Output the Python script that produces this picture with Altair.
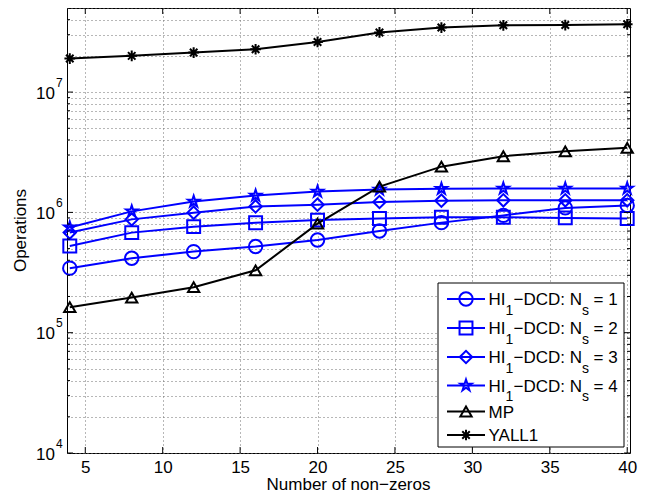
import altair as alt
import pandas as pd

# ---------------- data ----------------
x_vals = [4, 8, 12, 16, 20, 24, 28, 32, 36, 40]
ns1 = [3.44e5, 4.16e5, 4.72e5, 5.20e5, 5.89e5, 7.00e5, 8.22e5, 9.44e5, 1.09e6, 1.14e6]
ns2 = [5.26e5, 6.79e5, 7.61e5, 8.21e5, 8.63e5, 8.90e5, 9.10e5, 9.10e5, 9.00e5, 8.90e5]
ns3 = [6.80e5, 8.75e5, 9.95e5, 1.12e6, 1.16e6, 1.22e6, 1.25e6, 1.26e6, 1.26e6, 1.26e6]
ns4 = [7.50e5, 1.02e6, 1.23e6, 1.38e6, 1.49e6, 1.55e6, 1.57e6, 1.58e6, 1.58e6, 1.58e6]
mp = [1.63e5, 1.96e5, 2.39e5, 3.30e5, 8.06e5, 1.64e6, 2.40e6, 2.93e6, 3.22e6, 3.44e6]
yall1 = [1.90e7, 2.00e7, 2.13e7, 2.27e7, 2.61e7, 3.13e7, 3.44e7, 3.59e7, 3.61e7, 3.66e7]

series_keys = ["ns1", "ns2", "ns3", "ns4", "mp", "yall1"]
series_vals = [ns1, ns2, ns3, ns4, mp, yall1]
series_colors = ["#0000ff", "#0000ff", "#0000ff", "#0000ff", "#000000", "#000000"]
pentagram = ("M0,-1L0.2245,-0.309L0.9511,-0.309L0.3633,0.118L0.5878,0.809L0,0.382"
             "L-0.5878,0.809L-0.3633,0.118L-0.9511,-0.309L-0.2245,-0.309Z")
asterisk = "M0,-1L0,1M-1,0L1,0M-0.7,-0.7L0.7,0.7M-0.7,0.7L0.7,-0.7"
series_shapes = ["circle", "square", "diamond", pentagram, "triangle-up", asterisk]
series_sizes = [180, 115, 230, 260, 300, 160]

x_ticks = [5, 10, 15, 20, 25, 30, 35, 40]
decades = [1e4, 1e5, 1e6, 1e7]
exponents = ["4", "5", "6", "7"]
minor_vals = [m * d for d in decades for m in range(2, 10) if m * d <= 5e7]
grid_vals = sorted(decades + minor_vals)

legend_main = ["HI", "HI", "HI", "HI", "MP", "YALL1"]
legend_num = ["1", "2", "3", "4"]

W, H = 563, 445
FS = 17
FONT = "Liberation Sans"

rows = []
for k, vals in zip(series_keys, series_vals):
    for xv, yv in zip(x_vals, vals):
        rows.append({"x": xv, "y": yv, "series": k})
df = pd.DataFrame(rows)

xscale = alt.Scale(domain=[3.82, 40.18], nice=False, zero=False)
yscale = alt.Scale(type="log", domain=[1e4, 5e7], nice=False)
cscale = alt.Scale(domain=series_keys, range=series_colors)
shscale = alt.Scale(domain=series_keys, range=series_shapes)
szscale = alt.Scale(domain=series_keys, range=series_sizes)

x_axis = alt.Axis(values=x_ticks, grid=True, gridDash=[1, 3], gridColor="#6e6e6e",
                  gridWidth=1, ticks=False, tickSize=0, domain=False,
                  labelFont=FONT, labelFontSize=FS, labelColor="black",
                  labelBaseline="alphabetic", labelPadding=19, labelFlush=False,
                  title=None)
y_axis = alt.Axis(values=grid_vals, grid=True, gridDash=[1, 3], gridColor="#6e6e6e",
                  gridWidth=1, ticks=False, tickSize=0, domain=False, labels=False,
                  title=None)

base = alt.Chart(df)
lines = base.mark_line(strokeWidth=2).encode(
    x=alt.X("x:Q", scale=xscale, axis=x_axis),
    y=alt.Y("y:Q", scale=yscale, axis=y_axis),
    color=alt.Color("series:N", scale=cscale, legend=None),
    detail="series:N",
)
points = base.mark_point(filled=False, strokeWidth=2, opacity=1).encode(
    x=alt.X("x:Q", scale=xscale),
    y=alt.Y("y:Q", scale=yscale),
    color=alt.Color("series:N", scale=cscale, legend=None),
    shape=alt.Shape("series:N", scale=shscale, legend=None),
    size=alt.Size("series:N", scale=szscale, legend=None),
)

# inner ticks (MATLAB style)
xt = pd.DataFrame({"v": x_ticks})
xt_bottom = alt.Chart(xt).mark_rule(color="black", strokeWidth=1).encode(
    x=alt.X("v:Q", scale=xscale), y=alt.value(H), y2=alt.value(H - 6))
xt_top = alt.Chart(xt).mark_rule(color="black", strokeWidth=1).encode(
    x=alt.X("v:Q", scale=xscale), y=alt.value(0), y2=alt.value(6))
yt = pd.DataFrame({"v": decades})
ym = pd.DataFrame({"v": minor_vals})
yt_left = alt.Chart(yt).mark_rule(color="black", strokeWidth=1).encode(
    y=alt.Y("v:Q", scale=yscale), x=alt.value(0), x2=alt.value(6))
yt_right = alt.Chart(yt).mark_rule(color="black", strokeWidth=1).encode(
    y=alt.Y("v:Q", scale=yscale), x=alt.value(W), x2=alt.value(W - 6))
ym_left = alt.Chart(ym).mark_rule(color="black", strokeWidth=1).encode(
    y=alt.Y("v:Q", scale=yscale), x=alt.value(0), x2=alt.value(3))
ym_right = alt.Chart(ym).mark_rule(color="black", strokeWidth=1).encode(
    y=alt.Y("v:Q", scale=yscale), x=alt.value(W), x2=alt.value(W - 3))

# y tick labels 10^k
ylab = pd.DataFrame({"v": decades, "e": exponents})
ylab_base = alt.Chart(ylab).mark_text(font=FONT, fontSize=FS, align="right",
                                      baseline="alphabetic", dy=6.5, color="black").encode(
    y=alt.Y("v:Q", scale=yscale), x=alt.value(-12), text=alt.value("10"))
ylab_exp = alt.Chart(ylab).mark_text(font=FONT, fontSize=12, align="left",
                                     baseline="alphabetic", dy=-5.5, color="black").encode(
    y=alt.Y("v:Q", scale=yscale), x=alt.value(-11), text="e:N")

# axis titles
xtitle = alt.Chart(pd.DataFrame({"t": ["Number of non\u2212zeros"]})).mark_text(
    font=FONT, fontSize=FS, align="center", baseline="alphabetic", color="black").encode(
    x=alt.value(W / 2), y=alt.value(H + 37), text="t:N")
ytitle = alt.Chart(pd.DataFrame({"t": ["Operations"]})).mark_text(
    font=FONT, fontSize=FS, align="center", baseline="middle", angle=270, color="black").encode(
    x=alt.value(-46), y=alt.value(H / 2), text="t:N")

# legend
row_c = [291, 320, 349, 377.5, 403.5, 427]
leg_box = alt.Chart(pd.DataFrame({"a": [0]})).mark_rect(
    fill="white", stroke="black", strokeWidth=1).encode(
    x=alt.value(371), x2=alt.value(557), y=alt.value(275), y2=alt.value(439))
leg_df = pd.DataFrame({"series": series_keys, "ly": row_c})
leg_lines = alt.Chart(leg_df).mark_rule(strokeWidth=2).encode(
    x=alt.value(380), x2=alt.value(418), y=alt.Y("ly:Q", scale=None),
    color=alt.Color("series:N", scale=cscale, legend=None))
leg_pts = alt.Chart(leg_df).mark_point(filled=False, strokeWidth=2, opacity=1).encode(
    x=alt.value(399), y=alt.Y("ly:Q", scale=None),
    color=alt.Color("series:N", scale=cscale, legend=None),
    shape=alt.Shape("series:N", scale=shscale, legend=None),
    size=alt.Size("series:N", scale=szscale, legend=None))

main_txt, sub_txt = [], []
for i, c in enumerate(row_c):
    if i < 4:
        main_txt += [
            {"t": "HI", "px": 421.5, "py": c + 6},
            {"t": "\u2212DCD: N", "px": 446.5, "py": c + 6},
            {"t": "= " + legend_num[i], "px": 526.5, "py": c + 6},
        ]
        sub_txt += [
            {"t": "1", "px": 438.5, "py": c + 15.5},
            {"t": "s", "px": 515, "py": c + 15.5},
        ]
    else:
        main_txt.append({"t": legend_main[i], "px": 421.5, "py": c + 6})
leg_main = alt.Chart(pd.DataFrame(main_txt)).mark_text(
    font=FONT, fontSize=FS, align="left", baseline="alphabetic", color="black").encode(
    x=alt.X("px:Q", scale=None), y=alt.Y("py:Q", scale=None), text="t:N")
leg_sub = alt.Chart(pd.DataFrame(sub_txt)).mark_text(
    font=FONT, fontSize=14, align="left", baseline="alphabetic", color="black").encode(
    x=alt.X("px:Q", scale=None), y=alt.Y("py:Q", scale=None), text="t:N")

chart = alt.layer(
    lines, points,
    xt_bottom, xt_top, yt_left, yt_right, ym_left, ym_right,
    ylab_base, ylab_exp, xtitle, ytitle,
    leg_box, leg_lines, leg_pts, leg_main, leg_sub,
).properties(
    width=W, height=H,
    autosize=alt.AutoSizeParams(type="none"),
    padding={"left": 59, "top": 0, "right": 8, "bottom": 40},
    background="white",
).configure_view(stroke="black", strokeWidth=1)

chart.save("out.html", embed_options={"renderer": "svg", "actions": False})
